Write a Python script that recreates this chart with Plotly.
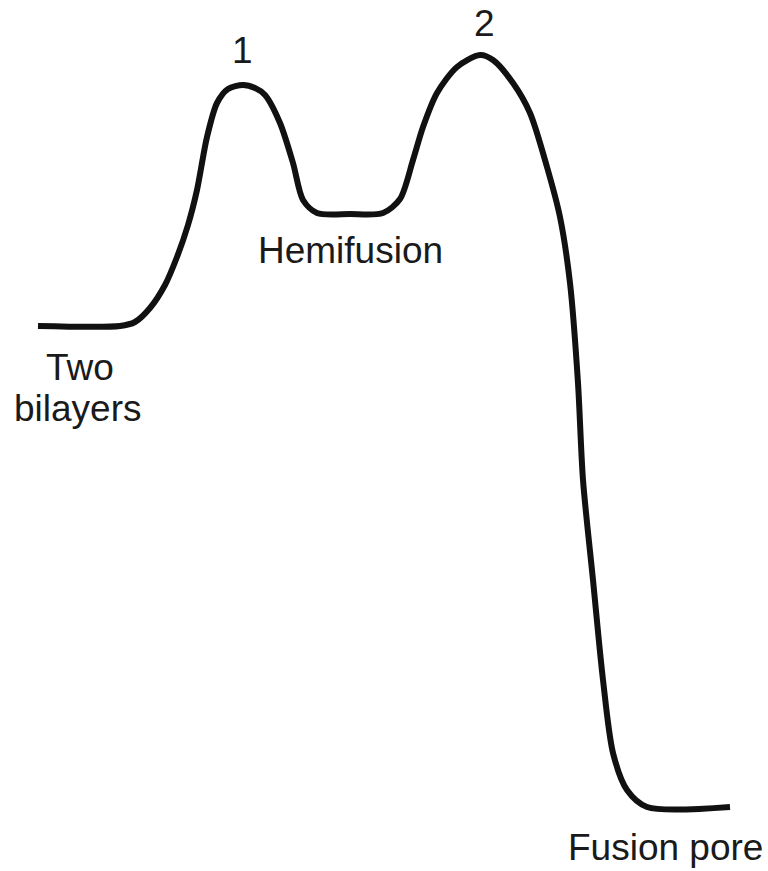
import plotly.graph_objects as go

# Reaction coordinate (arbitrary units) and free energy (arbitrary units)
reaction_coord = [38, 120, 135, 150, 165, 177, 188, 197, 207, 217, 228, 243, 255, 265, 280, 293,
                  303, 317, 350, 383, 400, 413, 423, 437, 457, 480, 493, 513, 530, 547, 560, 570,
                  578, 583, 593, 603, 613, 627, 647, 730]
free_energy = [545, 545, 549, 563, 586, 614, 646, 681, 734, 768, 782, 786, 783, 776, 748, 708,
               671, 658, 657, 658, 672, 711, 744, 778, 804, 816, 811, 788, 758, 704, 654, 588,
               488, 391, 291, 191, 118, 81, 64, 64]

state_labels = ["Two", "bilayers", "1", "Hemifusion", "2", "Fusion pore"]

fig = go.Figure()
fig.add_trace(go.Scatter(
    x=reaction_coord, y=free_energy, mode="lines",
    line=dict(color="#111111", width=6, shape="spline", smoothing=0.8),
    hoverinfo="skip", showlegend=False,
))

font = dict(family="Liberation Sans, Arial, sans-serif", size=37, color="#1a1a1a")
label_pos = [(80, 504), (78, 463), (242, 821), (350, 621), (484, 848), (665, 24)]
for text, (x, y) in zip(state_labels, label_pos):
    fig.add_annotation(x=x, y=y, text=text, showarrow=False, font=font,
                       xanchor="center", yanchor="middle", borderpad=0)

fig.update_layout(
    width=768, height=871,
    margin=dict(l=0, r=0, t=0, b=0),
    paper_bgcolor="white", plot_bgcolor="white",
    xaxis=dict(range=[0, 768], visible=False, fixedrange=True),
    yaxis=dict(range=[0, 871], visible=False, fixedrange=True),
)

# Remove the page's default 8px body margin so the figure fills the window exactly.
fig.write_html("out.html", config={"displayModeBar": False},
               post_script="document.body.style.margin='0';")
